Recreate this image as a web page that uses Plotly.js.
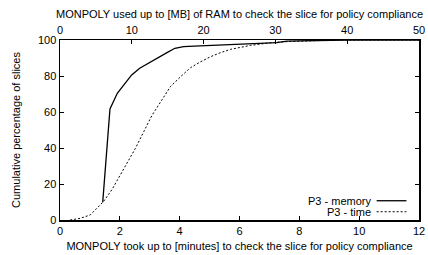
<!DOCTYPE html>
<html>
<head>
<meta charset="utf-8">
<script src="https://cdn.plot.ly/plotly-3.0.1.min.js"></script>
<style>html,body{margin:0;padding:0;background:#fff;}#chart{width:428px;height:255px;}</style>
</head>
<body>
<div id="chart"></div>
<script>
// Memory series (top axis, MB)
const memMB  = [5.95, 6.96, 7.98, 9.98, 11.1, 12.8, 13.9, 14.9, 16.0, 17.2, 19.5, 25.0, 30.2, 31.6, 35.0, 40.0, 50.0];
const memPct = [9.9, 61.7, 70.4, 80.6, 84.3, 88.3, 91.0, 93.0, 95.4, 96.3, 96.7, 97.6, 98.5, 99.4, 99.7, 100, 100];
// Time series (bottom axis, minutes)
const timeMin = [0.34, 0.67, 1.01, 1.23, 1.45, 1.73, 2.01, 2.12, 2.52, 2.80, 3.08, 3.36, 3.69, 4.03, 4.36, 4.70, 5.03, 5.37, 5.70, 6.37, 7.05, 7.60, 8.40, 9.20, 12.0];
const timePct = [0, 0.9, 2.8, 6.5, 10.2, 16.7, 25.0, 28.3, 39.8, 49.1, 58.3, 65.5, 74.1, 79.6, 84.6, 87.9, 90.7, 93.0, 94.8, 97.0, 98.5, 99.1, 99.6, 100, 100];
const legendNames = ["P3 - memory", "P3 - time"];

const font = {family: "Liberation Sans, Arial, sans-serif", size: 11, color: "#000"};

const traces = [
  {x: memMB, y: memPct, xaxis: "x2", yaxis: "y", mode: "lines", name: legendNames[0],
   line: {color: "#000", width: 1.3}, hoverinfo: "none"},
  {x: timeMin, y: timePct, xaxis: "x", yaxis: "y", mode: "lines", name: legendNames[1],
   line: {color: "#000", width: 1, dash: "2px,2px"}, hoverinfo: "none"}
];

const layout = {
  width: 428, height: 255,
  margin: {l: 60, r: 9, t: 40, b: 35},
  paper_bgcolor: "#fff", plot_bgcolor: "#fff",
  font: font,
  showlegend: false,
  xaxis: {
    range: [0, 12], dtick: 2, tick0: 0, ticks: "inside", ticklen: 4, tickwidth: 1, tickcolor: "#000",
    showgrid: false, zeroline: false, showline: true, linecolor: "#000", linewidth: 1.5,
    title: {text: "MONPOLY took up to [minutes] to check the slice for policy compliance", font: font, standoff: 6},
    tickfont: font, automargin: false
  },
  xaxis2: {
    range: [0, 50], dtick: 10, tick0: 0, overlaying: "x", side: "top", anchor: "y",
    ticks: "inside", ticklen: 4, tickwidth: 1, tickcolor: "#000",
    showgrid: false, zeroline: false, showline: true, linecolor: "#000", linewidth: 1.5,
    title: {text: "MONPOLY used up to [MB] of RAM to check the slice for policy compliance", font: font, standoff: 3},
    tickfont: font, automargin: false
  },
  yaxis: {
    range: [0, 100], dtick: 20, tick0: 0, ticks: "inside", ticklen: 4, tickwidth: 1, tickcolor: "#000",
    showgrid: false, zeroline: false, showline: true, mirror: "ticks", linecolor: "#000", linewidth: 1.5,
    title: {text: "Cumulative percentage of slices", font: font, standoff: 15},
    tickfont: font, automargin: false
  },
  annotations: [
    {xref: "paper", yref: "paper", x: 0.871, y: 0.107, xanchor: "right", yanchor: "middle",
     text: legendNames[0], showarrow: false, font: font},
    {xref: "paper", yref: "paper", x: 0.871, y: 0.046, xanchor: "right", yanchor: "middle",
     text: legendNames[1], showarrow: false, font: font}
  ],
  shapes: [
    {type: "line", xref: "paper", yref: "paper", x0: 0.882, x1: 0.965, y0: 0.107, y1: 0.107,
     line: {color: "#000", width: 1.3}},
    {type: "line", xref: "paper", yref: "paper", x0: 0.882, x1: 0.965, y0: 0.046, y1: 0.046,
     line: {color: "#000", width: 1, dash: "2px,2px"}}
  ]
};

Plotly.newPlot("chart", traces, layout, {staticPlot: true, displayModeBar: false});
</script>
</body>
</html>
